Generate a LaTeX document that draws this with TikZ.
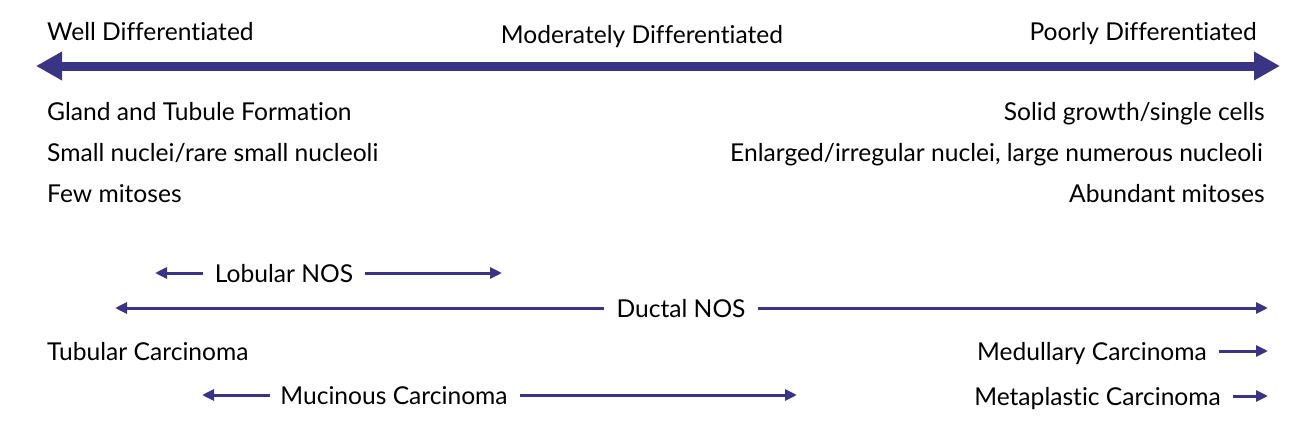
\documentclass[tikz,border=0pt]{standalone}
\usepackage{fontspec}
\setmainfont[Ligatures={NoCommon}]{Lato}
\usetikzlibrary{arrows.meta}
\definecolor{navy}{RGB}{58,52,132}
\begin{document}
\begin{tikzpicture}[x=1pt,y=-1pt,
  lbl/.style={inner sep=0pt,text=black,font=\fontsize{24.6}{28}\selectfont},
  thinarrow/.style={draw=navy,line width=3pt,-{Triangle[length=12pt,width=11pt]}},
  bigarrow/.style={draw=navy,line width=9pt,{Triangle[length=26pt,width=27pt]}-{Triangle[length=26pt,width=27pt]}}]
\useasboundingbox (0,0) rectangle (1296,434);
% main scale
\coordinate (L) at (36,66);
\coordinate (R) at (1280,66);
\draw[bigarrow] (L) -- (R);
\node[lbl,anchor=base west] (well) at (47,40) {Well Differentiated};
\node[lbl,anchor=base] (mod) at (642,43) {Moderately Differentiated};
\node[lbl,anchor=base east] (poor) at (1257,40) {Poorly Differentiated};
% features
\node[lbl,anchor=base west] (f1) at (47,120) {Gland and Tubule Formation};
\node[lbl,anchor=base west] (f2) at (47,161) {Small nuclei/rare small nucleoli};
\node[lbl,anchor=base west] (f3) at (47,202) {Few mitoses};
\node[lbl,anchor=base east] (g1) at (1265,120) {Solid growth/single cells};
\node[lbl,anchor=base east] (g2) at (1263,161) {Enlarged/irregular nuclei, large numerous nucleoli};
\node[lbl,anchor=base east] (g3) at (1265,202) {Abundant mitoses};
% lobular
\node[lbl,anchor=base] (lob) at (284,282) {Lobular NOS};
\coordinate (lobL) at (155,273);
\coordinate (lobR) at (502,273);
\draw[thinarrow] ([xshift=-12pt]lob.west |- lobL) -- (lobL);
\draw[thinarrow] ([xshift=12pt]lob.east |- lobR) -- (lobR);
% ductal
\node[lbl,anchor=base] (duc) at (681,317) {Ductal NOS};
\coordinate (ducL) at (115,308);
\coordinate (ducR) at (1268,308);
\draw[thinarrow] ([xshift=-12pt]duc.west |- ducL) -- (ducL);
\draw[thinarrow] ([xshift=12pt]duc.east |- ducR) -- (ducR);
% tubular / medullary
\node[lbl,anchor=base west] (tub) at (47,360) {Tubular Carcinoma};
\node[lbl,anchor=base east] (med) at (1207,360) {Medullary Carcinoma};
\coordinate (medR) at (1268,351);
\draw[thinarrow] ([xshift=12pt]med.east |- medR) -- (medR);
% mucinous
\node[lbl,anchor=base] (muc) at (394,404) {Mucinous Carcinoma};
\coordinate (mucL) at (202,395);
\coordinate (mucR) at (797,395);
\draw[thinarrow] ([xshift=-10pt]muc.west |- mucL) -- (mucL);
\draw[thinarrow] ([xshift=12pt]muc.east |- mucR) -- (mucR);
% metaplastic
\node[lbl,anchor=base east] (met) at (1221,405) {Metaplastic Carcinoma};
\coordinate (metR) at (1268,396);
\draw[thinarrow] ([xshift=12pt]met.east |- metR) -- (metR);
\end{tikzpicture}
\end{document}
